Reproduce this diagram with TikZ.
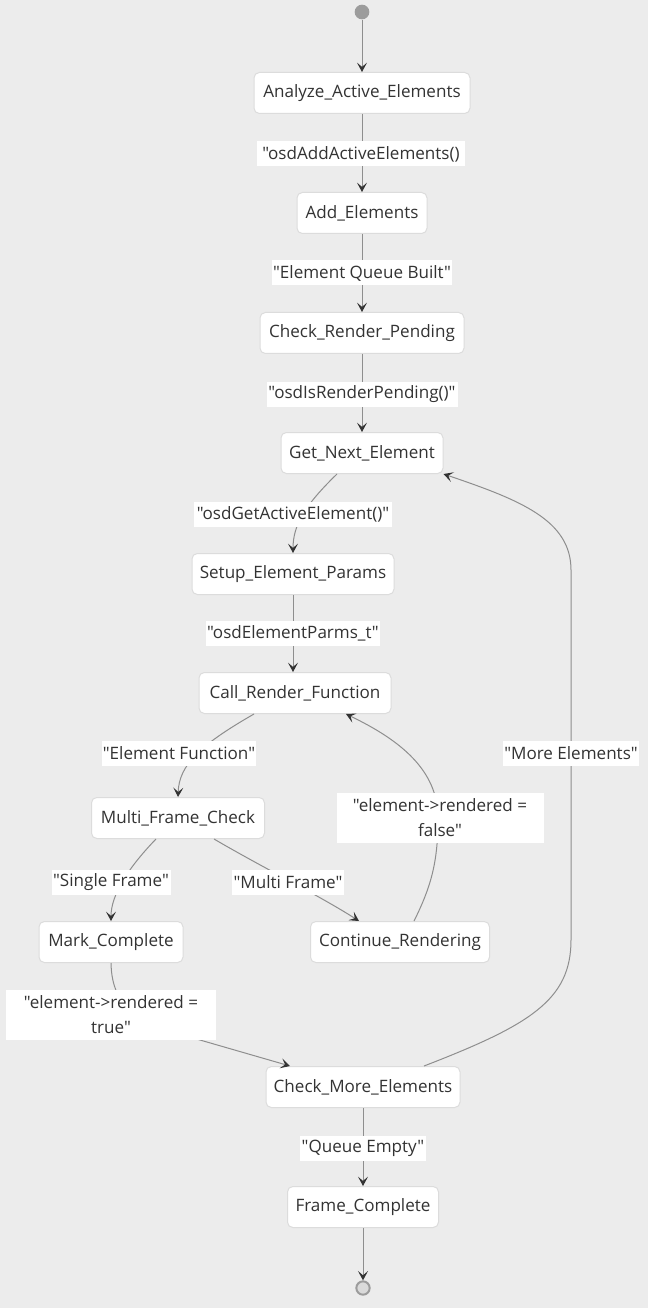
\documentclass[tikz,border=0pt]{standalone}
\usepackage{fontspec}
\setmainfont{Open Sans}[Ligatures=TeXOff]
\usetikzlibrary{arrows.meta,calc}
\definecolor{bgc}{HTML}{ECECEC}
\definecolor{nodeborder}{HTML}{DCDCDC}
\definecolor{edgec}{HTML}{8E8E8E}
\definecolor{tipc}{HTML}{333333}
\definecolor{txtc}{HTML}{333333}
\definecolor{startc}{HTML}{9C9C9C}
\definecolor{endin}{HTML}{DADADA}
\begin{document}
\begin{tikzpicture}[x=0.75pt,y=-0.75pt,
  font=\fontsize{12.8}{15}\selectfont,
  box/.style={draw=nodeborder, fill=white, rounded corners=4pt, minimum height=30.75pt,
    inner xsep=3pt, inner ysep=2pt, text=txtc, line width=0.75pt},
  lbl/.style={fill=white, inner sep=1pt, text=txtc, minimum height=18.75pt, align=center,
    font=\fontsize{12.8}{18.75}\selectfont},
  flow/.style={draw=edgec, line width=0.75pt, -{Stealth[length=7pt,width=7.5pt,inset=3.2pt,color=tipc]}}
]
\fill[bgc] (0,0) rectangle (648,1308);
\useasboundingbox (0,0) rectangle (648,1308);

% states
\node[circle, fill=startc, minimum size=11pt, inner sep=0pt] (start) at (362,12) {};
\node[box, minimum width=162pt] (aae) at (362,93) {Analyze\_Active\_Elements};
\node[box, minimum width=97.5pt] (add) at (362,213) {Add\_Elements};
\node[box, minimum width=153pt] (crp) at (362,333) {Check\_Render\_Pending};
\node[box, minimum width=121.5pt] (gne) at (362,453) {Get\_Next\_Element};
\node[box, minimum width=151.5pt] (sep) at (293,574) {Setup\_Element\_Params};
\node[box, minimum width=144pt] (crf) at (295,693) {Call\_Render\_Function};
\node[box, minimum width=129.75pt] (mfc) at (178,818) {Multi\_Frame\_Check};
\node[box, minimum width=108pt] (mc) at (111,942) {Mark\_Complete};
\node[box, minimum width=134.25pt] (cr) at (400,942) {Continue\_Rendering};
\node[box, minimum width=145.5pt] (cme) at (363,1087) {Check\_More\_Elements};
\node[box, minimum width=113.25pt] (fc) at (363,1207) {Frame\_Complete};
\node[circle, draw=startc, line width=1.5pt, fill=endin, minimum size=10pt, inner sep=0pt] (end) at (363,1288) {};

% connectors
\draw[flow] (start) -- (aae);
\draw[flow] (aae) -- (add);
\draw[flow] (add) -- (crp);
\draw[flow] (crp) -- (gne);
\draw[flow] ($(gne.south)+(-25,0)$) .. controls (305,505) and (293,525) .. (sep.north);
\draw[flow] (sep) -- (sep |- crf.north);
\draw[flow] ($(crf.south)+(-41,0)$) .. controls (200,745) and (179,765) .. (mfc.north);
\draw[flow] ($(mfc.south)+(-22,0)$) .. controls (128,868) and (111,895) .. (mc.north);
\draw[flow] ($(mfc.south)+(36,0)$) .. controls (260,866) and (320,896) .. ($(cr.north)+(-41,0)$);
\draw[flow] ($(cr.north)+(14,0)$) .. controls (432,885) and (438,860) .. (438,818)
   .. controls (438,770) and (400,740) .. ($(crf.south)+(51,0)$);
\draw[flow] (mc.south) .. controls (112,1010) and (140,1022) .. (200,1040) -- ($(cme.north)+(-73,0)$);
\draw[flow] ($(cme.north)+(61,0)$) .. controls (530,1025) and (571,1000) .. (571,940)
   -- (571,570) .. controls (571,520) and (520,500) .. (gne.south east);
\draw[flow] (cme) -- (fc);
\draw[flow] (fc) -- (end);

% labels
\node[lbl, minimum width=156pt] (l1) at (361,154) {"osdAddActiveElements()};
\node[lbl, minimum width=135pt] (l2) at (362,273) {"Element Queue Built"};
\node[lbl, minimum width=143.25pt] (l3) at (362,394) {"osdIsRenderPending()"};
\node[lbl, minimum width=148.5pt] (l4) at (293,514) {"osdGetActiveElement()"};
\node[lbl, minimum width=129.75pt] (l5) at (293,633) {"osdElementParms\_t"};
\node[lbl, minimum width=115.5pt] (l6) at (179,753) {"Element Function"};
\node[lbl, minimum width=89.25pt] (l7) at (111,882) {"Single Frame"};
\node[lbl, minimum width=84pt] (l8) at (288,882) {"Multi Frame"};
\node[lbl, minimum width=155.25pt, minimum height=37.5pt] (l9) at (440,818) {"element->rendered =\\false"};
\node[lbl, minimum width=101.25pt] (l10) at (571,753) {"More Elements"};
\node[lbl, minimum width=157.5pt, minimum height=37.5pt] (l11) at (111,1015) {"element->rendered =\\true"};
\node[lbl, minimum width=93.75pt] (l12) at (363,1148) {"Queue Empty"};
\end{tikzpicture}
\end{document}
